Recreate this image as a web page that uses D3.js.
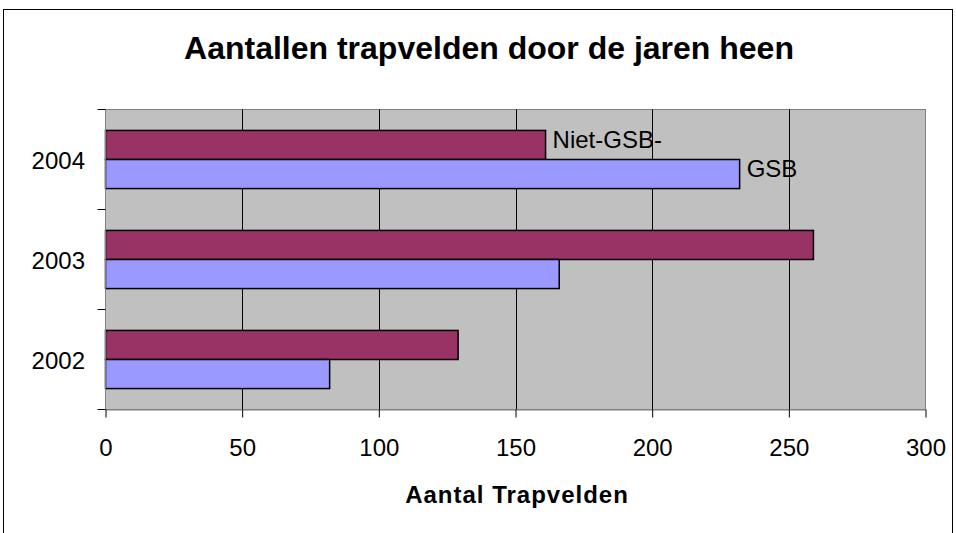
<!DOCTYPE html>
<html>
<head>
<meta charset="utf-8">
<script src="https://cdn.jsdelivr.net/npm/d3@7"></script>
<style>
  body { margin: 0; background: #fff; }
  text { font-family: "Liberation Sans", Arial, sans-serif; }
</style>
</head>
<body>
<script>
// chart data
var years = ["2004", "2003", "2002"];
var series = ["Niet-GSB-", "GSB"];
var nietGsb = [161, 259, 129];
var gsb = [232, 166, 82];
var xTicks = [0, 50, 100, 150, 200, 250, 300];
var colors = ["#993366", "#9999FF"];

window.onload = drawChart();

function drawChart(){
	var width = 956, height = 533;
	var plot = {left: 105.5, top: 109.5, right: 925.5, bottom: 409.5};

	var svg = d3.select("body")
		.append("svg")
		.attr("width", width)
		.attr("height", height);

	// outer frame
	svg.append("rect")
		.attr("x", 3.5).attr("y", 9.5)
		.attr("width", 949).attr("height", 600)
		.attr("fill", "none")
		.attr("stroke", "#000");

	var x = d3.scaleLinear()
		.domain([0, 300])
		.range([plot.left, plot.right]);

	var y = d3.scaleBand()
		.domain(years)
		.range([plot.top, plot.bottom])
		.paddingInner(0)
		.paddingOuter(0);

	var sub = d3.scaleBand()
		.domain(series)
		.range([0, y.bandwidth()])
		.paddingInner(0)
		.paddingOuter(0.72);

	// plot background
	svg.append("rect")
		.attr("x", plot.left).attr("y", plot.top)
		.attr("width", plot.right - plot.left)
		.attr("height", plot.bottom - plot.top)
		.attr("fill", "#C0C0C0")
		.attr("stroke", "#808080");

	// gridlines
	svg.selectAll(".grid")
		.data(xTicks.slice(1, -1))
		.enter()
		.append("line")
		.attr("x1", function(d){ return Math.round(x(d)) + 0.5; })
		.attr("x2", function(d){ return Math.round(x(d)) + 0.5; })
		.attr("y1", plot.top).attr("y2", plot.bottom)
		.attr("stroke", "#000");

	// bars
	var rows = years.map(function(yr, i){
		return {year: yr, values: [nietGsb[i], gsb[i]]};
	});

	rows.forEach(function(r){
		r.values.forEach(function(v, j){
			svg.append("rect")
				.attr("x", x(0))
				.attr("y", y(r.year) + sub(series[j]))
				.attr("width", x(v) - x(0))
				.attr("height", sub.bandwidth())
				.attr("fill", colors[j])
				.attr("stroke", "#000")
				.attr("stroke-width", 1.5);
		});
	});

	// series labels at the 2004 bars
	series.forEach(function(s, j){
		svg.append("text")
			.attr("x", x(rows[0].values[j]) + 7)
			.attr("y", y("2004") + sub(s) + sub.bandwidth() / 2 + 3)
			.attr("font-size", 24)
			.attr("fill", "#000")
			.text(s);
	});

	// x axis
	var xAxis = d3.axisBottom(x)
		.tickValues(xTicks)
		.tickSize(8)
		.tickSizeOuter(0);
	var gx = svg.append("g")
		.attr("transform", "translate(0," + plot.bottom + ")")
		.call(xAxis);
	gx.select(".domain").attr("stroke", "#808080");
	gx.selectAll(".tick line").attr("stroke", "#000");
	gx.selectAll(".tick text")
		.attr("font-size", 24)
		.attr("font-family", "Liberation Sans, Arial, sans-serif")
		.attr("fill", "#000")
		.attr("y", 46)
		.attr("dy", null);

	// y axis: ticks at band edges
	var gy = svg.append("g");
	gy.append("line")
		.attr("x1", plot.left).attr("x2", plot.left)
		.attr("y1", plot.top).attr("y2", plot.bottom)
		.attr("stroke", "#808080");
	var edges = years.map(function(d){ return y(d); }).concat([plot.bottom]);
	gy.selectAll(".ytick")
		.data(edges)
		.enter()
		.append("line")
		.attr("x1", plot.left - 8).attr("x2", plot.left)
		.attr("y1", function(d){ return d; })
		.attr("y2", function(d){ return d; })
		.attr("stroke", "#000");
	gy.selectAll(".ylab")
		.data(years)
		.enter()
		.append("text")
		.attr("x", 85)
		.attr("y", function(d){ return y(d) + y.bandwidth() / 2 + 9; })
		.attr("text-anchor", "end")
		.attr("font-size", 24)
		.text(function(d){ return d; });

	// title
	svg.append("text")
		.attr("x", 489).attr("y", 59)
		.attr("text-anchor", "middle")
		.attr("font-size", 32)
		.attr("font-weight", "bold")
		.text("Aantallen trapvelden door de jaren heen");

	// x axis title
	svg.append("text")
		.attr("x", 517).attr("y", 503)
		.attr("text-anchor", "middle")
		.attr("font-size", 24)
		.attr("font-weight", "bold")
		.attr("letter-spacing", 1)
		.text("Aantal Trapvelden");
}
</script>
</body>
</html>
